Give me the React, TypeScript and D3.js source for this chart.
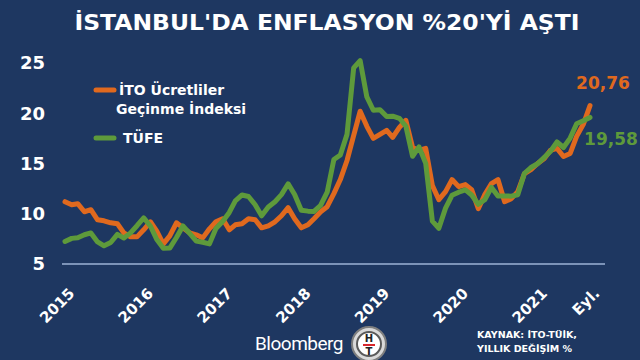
import { line, scaleLinear, scaleTime, select, timeMonth } from "d3";
import React, { useEffect, useRef } from "react";

// İTO Ücretliler Geçinme İndeksi, yıllık % (Ocak 2015 - Eylül 2021)
const itoValues = [
    11.2, 10.9, 11.0, 10.2, 10.4, 9.4, 9.3, 9.1, 9.0, 8.1, 7.7, 7.7,
    8.4, 9.2, 8.3, 7.0, 7.8, 9.1, 8.6, 8.1, 7.9, 7.6, 8.5, 9.2,
    9.5, 8.4, 8.9, 9.0, 9.5, 9.4, 8.6, 8.8, 9.2, 9.8, 10.6, 9.5,
    8.6, 8.9, 9.5, 10.2, 10.7, 12.0, 13.4, 15.3, 17.8, 20.2, 18.7, 17.5,
    17.9, 18.3, 17.6, 18.6, 19.3, 16.6, 16.3, 16.5, 12.8, 11.4, 12.2, 13.4,
    12.7, 12.9, 12.4, 10.5, 11.9, 13.0, 13.4, 11.2, 11.5, 12.2, 14.0, 14.4,
    15.0, 15.5, 16.3, 16.5, 15.7, 16.0, 17.7, 18.9, 20.76,
];

// TÜFE, yıllık %
const tufeValues = [
    7.24, 7.55, 7.61, 7.91, 8.09, 7.2, 6.81, 7.14, 7.95, 7.58, 8.1, 8.81,
    9.58, 8.78, 7.46, 6.57, 6.58, 7.64, 8.79, 8.05, 7.28, 7.16, 7.0, 8.53,
    9.22, 10.13, 11.29, 11.87, 11.72, 10.9, 9.79, 10.68, 11.2, 11.9, 12.98, 11.92,
    10.35, 10.26, 10.23, 10.85, 12.15, 15.39, 15.85, 17.9, 24.52, 25.24, 21.62, 20.3,
    20.35, 19.67, 19.71, 19.5, 18.71, 15.72, 16.65, 15.01, 9.26, 8.55, 10.56, 11.84,
    12.15, 12.37, 11.86, 10.94, 11.39, 12.62, 11.76, 11.77, 11.75, 11.89, 14.03, 14.6,
    14.97, 15.61, 16.19, 17.14, 16.59, 17.53, 18.95, 19.25, 19.58,
];

const yTicks = [5, 10, 15, 20, 25];
const xTickLabels = ["2015", "2016", "2017", "2018", "2019", "2020", "2021", "Eyl."];
const xTickDates = [
    new Date(2015, 0, 1),
    new Date(2016, 0, 1),
    new Date(2017, 0, 1),
    new Date(2018, 0, 1),
    new Date(2019, 0, 1),
    new Date(2020, 0, 1),
    new Date(2021, 0, 1),
    new Date(2021, 8, 1),
];
const lastLabels = ["20,76", "19,58"];

const BG = "#1e3761";
const ORANGE = "#e0691e";
const GREEN = "#5e9a3b";
const FONT = "'DejaVu Sans', Verdana, sans-serif";

const App: React.FC = () => {
    const svgRef = useRef<SVGSVGElement>(null);

    useEffect(() => {
        const width = 640,
            height = 360;
        const start = new Date(2015, 0, 1);
        const months = timeMonth.range(start, new Date(2021, 9, 1));

        const xScale = scaleTime()
            .domain([months[0], months[months.length - 1]])
            .range([65, 590]);
        const yScale = scaleLinear().domain([5, 25]).range([264, 63]);

        const svg = select(svgRef.current)
            .attr("width", width)
            .attr("height", height);
        svg.selectAll("*").remove();

        svg.append("rect")
            .attr("width", width)
            .attr("height", height)
            .attr("fill", BG);

        // title
        svg.append("text")
            .attr("x", 327)
            .attr("y", 30)
            .attr("text-anchor", "middle")
            .attr("fill", "#ffffff")
            .attr("font-family", FONT)
            .attr("font-weight", "bold")
            .attr("font-size", 22)
            .attr("textLength", 505)
            .attr("lengthAdjust", "spacingAndGlyphs")
            .text("İSTANBUL'DA ENFLASYON %20'Yİ AŞTI");

        // y axis labels
        svg.append("g")
            .selectAll("text")
            .data(yTicks)
            .enter()
            .append("text")
            .attr("x", 45)
            .attr("y", d => yScale(d))
            .attr("dy", "0.36em")
            .attr("text-anchor", "end")
            .attr("fill", "#ffffff")
            .attr("font-family", FONT)
            .attr("font-weight", "bold")
            .attr("font-size", 18)
            .text(d => d);

        // baseline
        svg.append("line")
            .attr("x1", 62)
            .attr("x2", 605)
            .attr("y1", yScale(5))
            .attr("y2", yScale(5))
            .attr("stroke", "#9db3d6")
            .attr("stroke-width", 1.5);

        // x labels
        svg.append("g")
            .selectAll("text")
            .data(xTickDates)
            .enter()
            .append("text")
            .attr(
                "transform",
                d => "translate(" + (xScale(d) + 3) + ",287) rotate(-45)",
            )
            .attr("text-anchor", "end")
            .attr("dy", "0.7em")
            .attr("fill", "#ffffff")
            .attr("font-family", FONT)
            .attr("font-weight", "bold")
            .attr("font-size", 15)
            .text((d, i) => xTickLabels[i]);

        const myLine = line<number>()
            .x((d, i) => xScale(months[i]))
            .y(d => yScale(d));

        svg.append("path")
            .datum(itoValues)
            .attr("fill", "none")
            .attr("stroke", ORANGE)
            .attr("stroke-width", 5)
            .attr("stroke-linejoin", "round")
            .attr("stroke-linecap", "round")
            .attr("d", myLine as any);

        svg.append("path")
            .datum(tufeValues)
            .attr("fill", "none")
            .attr("stroke", GREEN)
            .attr("stroke-width", 5)
            .attr("stroke-linejoin", "round")
            .attr("stroke-linecap", "round")
            .attr("d", myLine as any);

        // last values
        svg.append("text")
            .attr("x", 603)
            .attr("y", 89)
            .attr("text-anchor", "middle")
            .attr("fill", ORANGE)
            .attr("font-family", FONT)
            .attr("font-weight", "bold")
            .attr("font-size", 17)
            .text(lastLabels[0]);
        svg.append("text")
            .attr("x", 611)
            .attr("y", 145)
            .attr("text-anchor", "middle")
            .attr("fill", GREEN)
            .attr("font-family", FONT)
            .attr("font-weight", "bold")
            .attr("font-size", 17)
            .text(lastLabels[1]);

        // legend
        const legend = svg.append("g").attr("font-family", FONT);
        legend.append("line")
            .attr("x1", 96)
            .attr("x2", 114)
            .attr("y1", 90)
            .attr("y2", 90)
            .attr("stroke", ORANGE)
            .attr("stroke-width", 5)
            .attr("stroke-linecap", "round");
        legend.append("text")
            .attr("x", 119)
            .attr("y", 95)
            .attr("fill", "#ffffff")
            .attr("font-weight", "bold")
            .attr("font-size", 14)
            .text("İTO Ücretliler");
        legend.append("text")
            .attr("x", 116)
            .attr("y", 114)
            .attr("fill", "#ffffff")
            .attr("font-weight", "bold")
            .attr("font-size", 14)
            .text("Geçinme İndeksi");
        legend.append("line")
            .attr("x1", 96)
            .attr("x2", 114)
            .attr("y1", 138)
            .attr("y2", 138)
            .attr("stroke", GREEN)
            .attr("stroke-width", 5)
            .attr("stroke-linecap", "round");
        legend.append("text")
            .attr("x", 123)
            .attr("y", 143)
            .attr("fill", "#ffffff")
            .attr("font-weight", "bold")
            .attr("font-size", 14)
            .text("TÜFE");

        // Bloomberg HT logo
        svg.append("text")
            .attr("x", 299)
            .attr("y", 350)
            .attr("text-anchor", "middle")
            .attr("fill", "#ffffff")
            .attr("font-family", "Roboto, 'Liberation Sans', sans-serif")
            .attr("font-size", 19)
            .attr("letter-spacing", -0.5)
            .text("Bloomberg");
        const logo = svg.append("g").attr("transform", "translate(369,344)");
        logo.append("circle")
            .attr("r", 17)
            .attr("fill", "#d9d9d9")
            .attr("stroke", "#7f7f7f")
            .attr("stroke-width", 2);
        logo.append("circle")
            .attr("r", 12)
            .attr("fill", "#ffffff")
            .attr("stroke", "#595959")
            .attr("stroke-width", 2);
        logo.append("text")
            .attr("y", -2)
            .attr("text-anchor", "middle")
            .attr("font-family", FONT)
            .attr("font-weight", "bold")
            .attr("font-size", 10)
            .attr("fill", "#222222")
            .text("H");
        logo.append("rect")
            .attr("x", -6)
            .attr("y", 0)
            .attr("width", 12)
            .attr("height", 2)
            .attr("fill", "#d7262c");
        logo.append("text")
            .attr("y", 11)
            .attr("text-anchor", "middle")
            .attr("font-family", FONT)
            .attr("font-weight", "bold")
            .attr("font-size", 10)
            .attr("fill", "#222222")
            .text("T");

        // source
        const source = svg.append("g")
            .attr("font-family", FONT)
            .attr("font-weight", "bold")
            .attr("font-size", 9.5)
            .attr("fill", "#ffffff");
        source.append("text").attr("x", 477).attr("y", 338).text("KAYNAK: İTO-TÜİK,");
        source.append("text").attr("x", 477).attr("y", 352).text("YILLIK DEĞİŞİM %");
    }, []);

    return (
        <svg
            ref={svgRef}
            style={{ position: "absolute", left: 0, top: 0, display: "block" }}
        ></svg>
    );
};

export default App;
